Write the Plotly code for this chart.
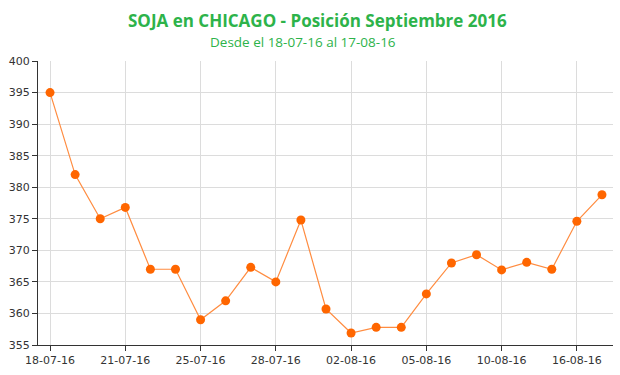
import plotly.graph_objects as go

dates = ["18-07-16", "19-07-16", "20-07-16", "21-07-16", "22-07-16", "23-07-16",
         "25-07-16", "26-07-16", "27-07-16", "28-07-16", "29-07-16", "01-08-16",
         "02-08-16", "03-08-16", "04-08-16", "05-08-16", "08-08-16", "09-08-16",
         "10-08-16", "11-08-16", "12-08-16", "16-08-16", "17-08-16"]
values = [395.0, 382.0, 375.0, 376.8, 367.0, 367.0, 359.0, 362.0, 367.3, 365.0,
          374.8, 360.7, 356.9, 357.8, 357.8, 363.1, 368.0, 369.3, 366.9, 368.1,
          367.0, 374.6, 378.8]
tick_labels = ["18-07-16", "21-07-16", "25-07-16", "28-07-16", "02-08-16",
               "05-08-16", "10-08-16", "16-08-16"]
y_ticks = [355, 360, 365, 370, 375, 380, 385, 390, 395, 400]

title = "SOJA en CHICAGO - Posición Septiembre 2016"
subtitle = "Desde el 18-07-16 al 17-08-16"

W, H = 620, 375
ML, MR, MT, MB = 38, 7, 61, 30
plot_w = W - ML - MR
plot_h = H - MT - MB


def px_to_paper(px, py):
    return (px - ML) / plot_w, (H - MB - py) / plot_h


tx, ty = px_to_paper(317, 20)
sx, sy = px_to_paper(303, 42)

fig = go.Figure()
fig.add_trace(go.Scatter(
    x=dates, y=values, mode="lines+markers",
    line=dict(color="#FF8C40", width=1.2),
    marker=dict(color="#FF6600", size=9),
    hoverinfo="x+y", cliponaxis=False,
))

fig.update_layout(
    width=W, height=H,
    margin=dict(l=ML, r=MR, t=MT, b=MB, autoexpand=False),
    paper_bgcolor="white", plot_bgcolor="white",
    showlegend=False,
    font=dict(family="DejaVu Sans", size=11, color="#333333"),
    annotations=[
        dict(text="<b>" + title + "</b>", xref="paper", yref="paper",
             x=tx, y=ty, xanchor="center", yanchor="middle", showarrow=False,
             font=dict(family="Open Sans", size=17, color="#2DB34A")),
        dict(text=subtitle, xref="paper", yref="paper",
             x=sx, y=sy, xanchor="center", yanchor="middle", showarrow=False,
             font=dict(family="Open Sans", size=13.5, color="#2DB34A")),
    ],
)

fig.update_xaxes(
    type="category", categoryorder="array", categoryarray=dates,
    range=[-0.48, 22.44], automargin=False,
    tickmode="array", tickvals=tick_labels, ticktext=tick_labels,
    showgrid=True, gridcolor="#DCDCDC", gridwidth=1,
    showline=True, linecolor="#333333", linewidth=1,
    ticks="outside", ticklen=5, tickcolor="#333333",
    tickfont=dict(family="DejaVu Sans", size=11, color="#333333"),
    zeroline=False,
)
fig.update_yaxes(
    range=[355, 400], tickmode="array", tickvals=y_ticks, automargin=False,
    showgrid=True, gridcolor="#DCDCDC", gridwidth=1,
    showline=True, linecolor="#333333", linewidth=1,
    ticks="outside", ticklen=5, tickcolor="#333333",
    tickfont=dict(family="DejaVu Sans", size=11, color="#333333"),
    zeroline=False,
)

fig.write_html("out.html",
               config={"displayModeBar": False},
               post_script="document.body.style.margin='0';document.body.style.padding='0';")
